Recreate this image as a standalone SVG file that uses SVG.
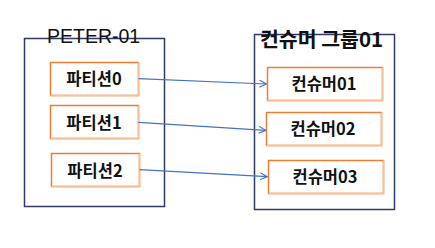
<svg xmlns="http://www.w3.org/2000/svg" width="435" height="248" viewBox="0 0 435 248">
<defs>
<style>
.outer{fill:#fff;stroke:#2F3A66;stroke-width:1.5}
.box{fill:#fff;stroke:#ED7D31;stroke-width:1.5}
.sh{fill:none;stroke:#F8BE95;stroke-width:1.5}
.title{font-family:"Noto Sans CJK KR","Noto Sans",sans-serif;font-size:20.5px;fill:#111}
.lbl{font-family:"Noto Sans CJK KR","Noto Sans",sans-serif;font-size:16.5px;font-weight:bold;fill:#111;text-anchor:middle}
.conn{stroke:#4472C4;stroke-width:1.2;fill:none;marker-end:url(#arr)}
</style>
<marker id="arr" markerWidth="10" markerHeight="10" refX="8" refY="4" orient="auto" markerUnits="userSpaceOnUse">
<path d="M1,0.5 L8,4 L1,7.5" fill="none" stroke="#4472C4" stroke-width="1.1"/>
</marker>
</defs>
<rect width="435" height="248" fill="#fff"/>
<g id="topic">
<rect class="outer" x="24.5" y="38.5" width="140" height="168"/>
<text x="47" y="43" style="font-family:'Liberation Sans',sans-serif;font-size:19.5px;fill:#111">PETER-01</text>
</g>
<g id="group">
<rect class="outer" x="254.5" y="34.5" width="140" height="175"/>
<text class="title" x="260" y="47" style="font-weight:bold">컨슈머 그룹01</text>
</g>
<g id="p0">
<rect class="box" x="50.5" y="62.5" width="88" height="33"/>
<polyline class="sh" points="138.5,62.5 138.5,95.5 50.5,95.5"/>
<text class="lbl" x="94" y="85">파티션0</text>
</g>
<g id="p1">
<rect class="box" x="50.5" y="105.5" width="88" height="33"/>
<polyline class="sh" points="138.5,105.5 138.5,138.5 50.5,138.5"/>
<text class="lbl" x="94" y="128.5">파티션1</text>
</g>
<g id="p2">
<rect class="box" x="51.5" y="153.5" width="88" height="33"/>
<polyline class="sh" points="139.5,153.5 139.5,186.5 51.5,186.5"/>
<text class="lbl" x="95" y="176.5">파티션2</text>
</g>
<g id="c1">
<rect class="box" x="267.5" y="67.5" width="115" height="33"/>
<polyline class="sh" points="382.5,67.5 382.5,100.5 267.5,100.5"/>
<text class="lbl" x="324" y="90">컨슈머01</text>
</g>
<g id="c2">
<rect class="box" x="266.5" y="112.5" width="115" height="33"/>
<polyline class="sh" points="381.5,112.5 381.5,145.5 266.5,145.5"/>
<text class="lbl" x="323" y="135">컨슈머02</text>
</g>
<g id="c3">
<rect class="box" x="268.5" y="160.5" width="115" height="33"/>
<polyline class="sh" points="383.5,160.5 383.5,193.5 268.5,193.5"/>
<text class="lbl" x="325" y="183">컨슈머03</text>
</g>
<g id="connectors">
<line class="conn" x1="138.5" y1="78.7" x2="266.5" y2="84"/>
<line class="conn" x1="138.5" y1="122.3" x2="265.8" y2="130.3"/>
<line class="conn" x1="139.5" y1="169.7" x2="267.2" y2="176.7"/>
</g>
</svg>
